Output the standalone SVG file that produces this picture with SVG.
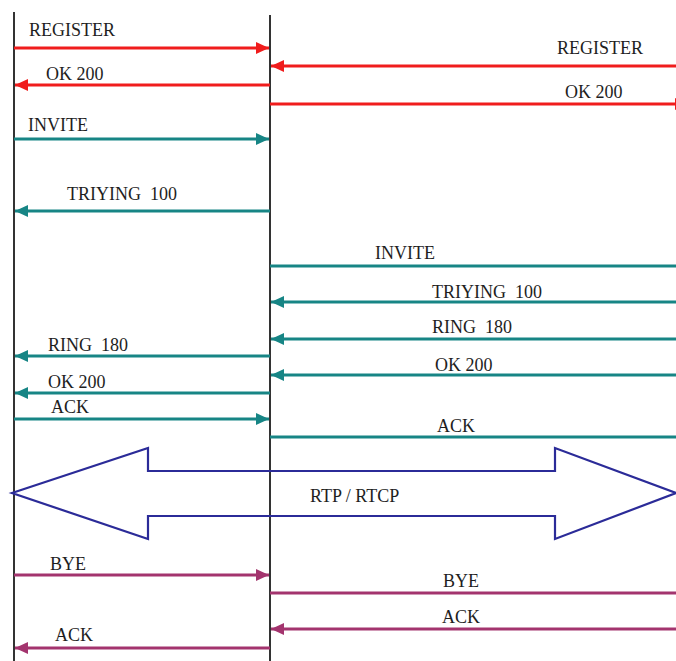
<svg xmlns="http://www.w3.org/2000/svg" width="676" height="661" viewBox="0 0 676 661">
<style>
.life{stroke:#333;stroke-width:2;fill:none}
text{font-family:'Liberation Serif','DejaVu Serif',serif;font-size:18px;fill:#1e1e1e;white-space:pre}
.red{stroke:#f01c1c;stroke-width:3;fill:none}
.teal{stroke:#178585;stroke-width:3;fill:none}
.pur{stroke:#a3346e;stroke-width:3;fill:none}
.big{stroke:#2b2b98;stroke-width:2.2;fill:none;stroke-linejoin:miter}
</style>
<defs>
<marker id="hr" markerUnits="userSpaceOnUse" markerWidth="14" markerHeight="12" refX="13" refY="6" orient="auto"><path d="M0,0 L13,6 L0,12 Z" fill="#f01c1c"/></marker>
<marker id="ht" markerUnits="userSpaceOnUse" markerWidth="14" markerHeight="12" refX="13" refY="6" orient="auto"><path d="M0,0 L13,6 L0,12 Z" fill="#178585"/></marker>
<marker id="hp" markerUnits="userSpaceOnUse" markerWidth="14" markerHeight="12" refX="13" refY="6" orient="auto"><path d="M0,0 L13,6 L0,12 Z" fill="#a3346e"/></marker>
</defs>
<g id="lifelines">
<line id="life-left" class="life" x1="14" y1="12" x2="14" y2="661"/>
<line id="life-mid" class="life" x1="270" y1="15" x2="270" y2="661"/>
</g>
<g id="connectors">
<line class="red" x1="14" y1="48" x2="269" y2="48" marker-end="url(#hr)"/>
<line class="red" x1="676" y1="66" x2="271" y2="66" marker-end="url(#hr)"/>
<line class="red" x1="270" y1="85" x2="15" y2="85" marker-end="url(#hr)"/>
<line class="red" x1="270" y1="104" x2="688" y2="104" marker-end="url(#hr)"/>
<line class="teal" x1="14" y1="139" x2="269" y2="139" marker-end="url(#ht)"/>
<line class="teal" x1="270" y1="211" x2="15" y2="211" marker-end="url(#ht)"/>
<line class="teal" x1="270" y1="266" x2="676" y2="266"/>
<line class="teal" x1="676" y1="302" x2="271" y2="302" marker-end="url(#ht)"/>
<line class="teal" x1="676" y1="339" x2="271" y2="339" marker-end="url(#ht)"/>
<line class="teal" x1="270" y1="356" x2="15" y2="356" marker-end="url(#ht)"/>
<line class="teal" x1="676" y1="375" x2="271" y2="375" marker-end="url(#ht)"/>
<line class="teal" x1="270" y1="393" x2="15" y2="393" marker-end="url(#ht)"/>
<line class="teal" x1="14" y1="419" x2="269" y2="419" marker-end="url(#ht)"/>
<line class="teal" x1="270" y1="437" x2="676" y2="437"/>
<line class="pur" x1="14" y1="575" x2="269" y2="575" marker-end="url(#hp)"/>
<line class="pur" x1="270" y1="593" x2="676" y2="593"/>
<line class="pur" x1="676" y1="629" x2="271" y2="629" marker-end="url(#hp)"/>
<line class="pur" x1="270" y1="648" x2="15" y2="648" marker-end="url(#hp)"/>
</g>
<g id="rtp">
<path class="big" d="M12,493 L148,448 L148,471 L555,471 L555,448 L676,493 L555,539 L555,516 L148,516 L148,539 Z"/>
<text x="310" y="502">RTP / RTCP</text>
</g>
<g id="labels">
<text x="29" y="36">REGISTER</text>
<text x="557" y="54">REGISTER</text>
<text x="46" y="80">OK 200</text>
<text x="565" y="98">OK 200</text>
<text x="28" y="131">INVITE</text>
<text x="67" y="200" xml:space="preserve">TRIYING  100</text>
<text x="375" y="259">INVITE</text>
<text x="432" y="298" xml:space="preserve">TRIYING  100</text>
<text x="432" y="333" xml:space="preserve">RING  180</text>
<text x="48" y="351" xml:space="preserve">RING  180</text>
<text x="435" y="371">OK 200</text>
<text x="48" y="388">OK 200</text>
<text x="51" y="413">ACK</text>
<text x="437" y="432">ACK</text>
<text x="50" y="570">BYE</text>
<text x="443" y="587">BYE</text>
<text x="442" y="623">ACK</text>
<text x="55" y="641">ACK</text>
</g>
</svg>
